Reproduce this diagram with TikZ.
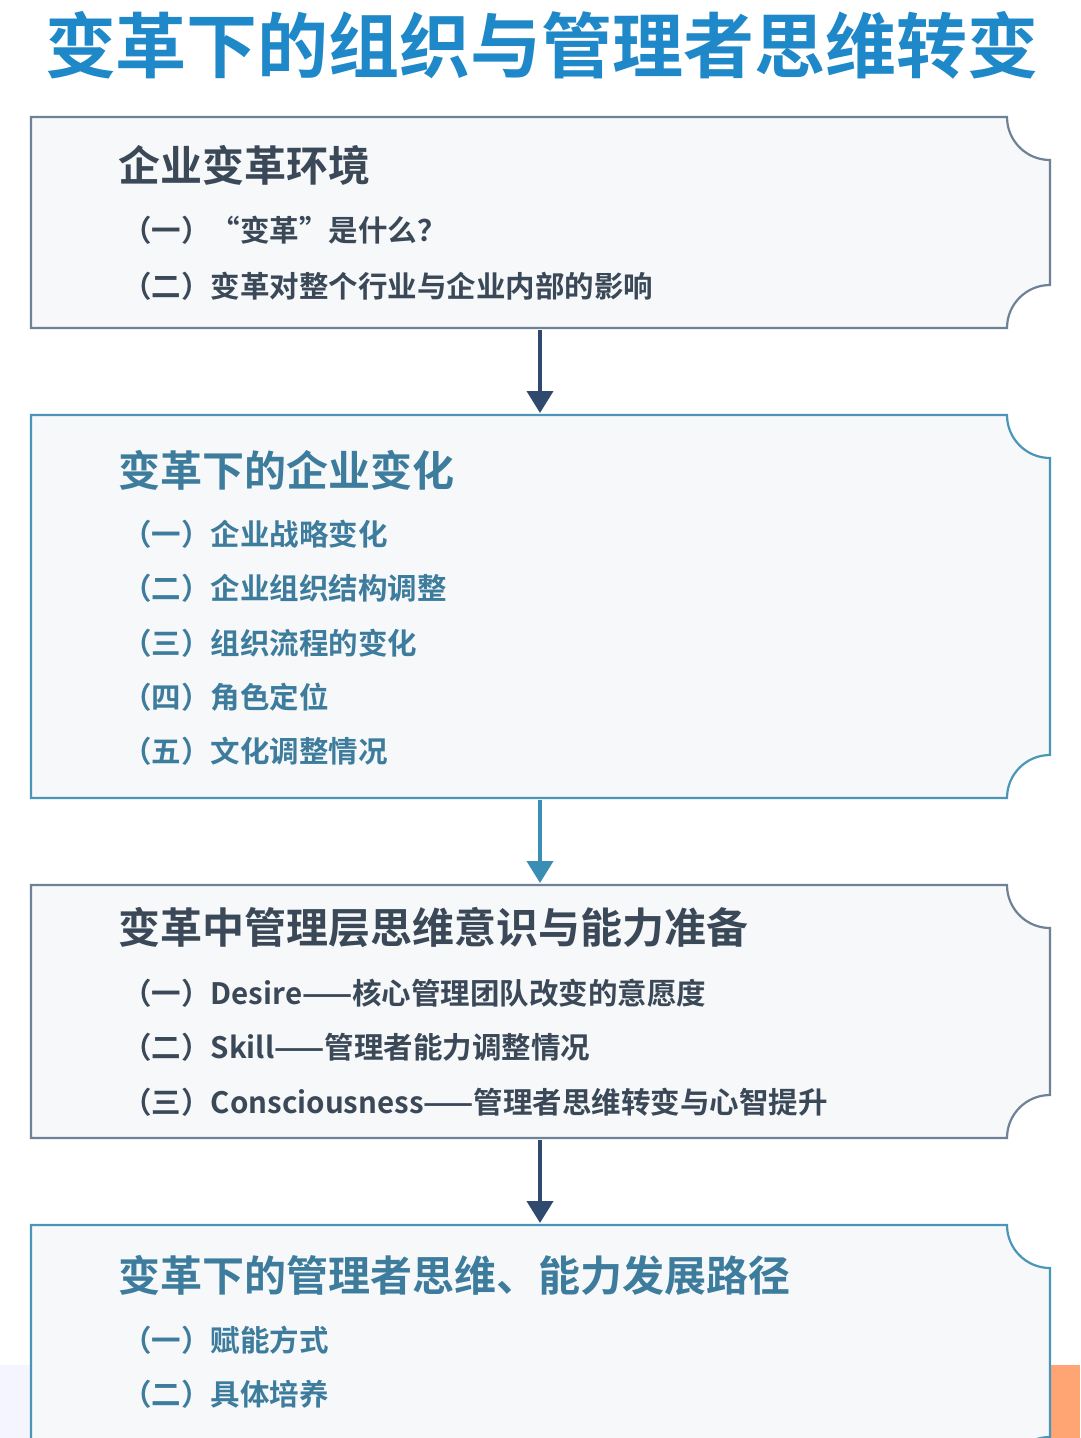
\documentclass[tikz,border=0pt]{standalone}
\usepackage{fontspec}
\usetikzlibrary{arrows.meta}
\newfontfamily\cjk{Noto Sans CJK SC Bold}
\definecolor{fillc}{HTML}{F6F8FA}
\definecolor{grayb}{HTML}{6E8196}
\definecolor{tealb}{HTML}{4A96B8}
\definecolor{dtext}{HTML}{3A4858}
\definecolor{ttext}{HTML}{3D7C9C}
\definecolor{navy}{HTML}{2F4A6E}
\definecolor{teala}{HTML}{3A8DB5}
\definecolor{titlec}{HTML}{1E88C8}
\begin{document}
\begin{tikzpicture}[x=1pt,y=-1pt,
  box/.style={fill=fillc,line width=2.2pt},
  head/.style={anchor=west,font=\cjk\fontsize{42}{46}\selectfont,inner sep=0},
  item/.style={anchor=west,font=\cjk\fontsize{29.5}{33}\selectfont,inner sep=0},
  arr/.style={line width=4pt,-{Triangle[length=22pt,width=26pt]}}]
\useasboundingbox (0,0) rectangle (1080,1438);
\fill[white] (0,0) rectangle (1080,1438);
\fill[blue!4] (0,1365) rectangle (1080,1438);
\fill[orange!70!red!55] (1000,1365) rectangle (1080,1438);
\node[font=\cjk\fontsize{71}{75}\selectfont,text=titlec,inner sep=0] (title) at (542,45) {变革下的组织与管理者思维转变};
\def\nbox#1#2#3{\draw[box,draw=#3] (31,#1) -- (1007,#1) arc[start angle=180,end angle=90,radius=43] -- (1050,#2-43) arc[start angle=270,end angle=180,radius=43] -- (31,#2) -- cycle;}
\nbox{117}{328}{grayb}
\nbox{415}{798}{tealb}
\nbox{885}{1138}{grayb}
\nbox{1225}{1480}{tealb}
\coordinate (b1) at (540,330); \coordinate (b2t) at (540,413);
\coordinate (b2) at (540,800); \coordinate (b3t) at (540,883);
\coordinate (b3) at (540,1140); \coordinate (b4t) at (540,1223);
\draw[arr,navy] (b1) -- (b2t);
\draw[arr,teala] (b2) -- (b3t);
\draw[arr,navy] (b3) -- (b4t);
\begin{scope}[text=dtext]
\node[head] (h1) at (118,165) {企业变革环境};
\node[item] (i11) at (122,230) {（一）“变革”是什么？};
\node[item] (i12) at (122,286) {（二）变革对整个行业与企业内部的影响};
\end{scope}
\begin{scope}[text=ttext]
\node[head] (h2) at (118,470) {变革下的企业变化};
\node[item] (i21) at (122,534) {（一）企业战略变化};
\node[item] (i22) at (122,588) {（二）企业组织结构调整};
\node[item] (i23) at (122,643) {（三）组织流程的变化};
\node[item] (i24) at (122,697) {（四）角色定位};
\node[item] (i25) at (122,751) {（五）文化调整情况};
\end{scope}
\begin{scope}[text=dtext]
\node[head] (h3) at (118,928) {变革中管理层思维意识与能力准备};
\node[item] (i31) at (122,993) {（一）Desire——核心管理团队改变的意愿度};
\node[item] (i32) at (122,1047) {（二）Skill——管理者能力调整情况};
\node[item] (i33) at (122,1102) {（三）Consciousness——管理者思维转变与心智提升};
\end{scope}
\begin{scope}[text=ttext]
\node[head] (h4) at (118,1275) {变革下的管理者思维、能力发展路径};
\node[item] (i41) at (122,1340) {（一）赋能方式};
\node[item] (i42) at (122,1394) {（二）具体培养};
\end{scope}
\end{tikzpicture}
\end{document}
